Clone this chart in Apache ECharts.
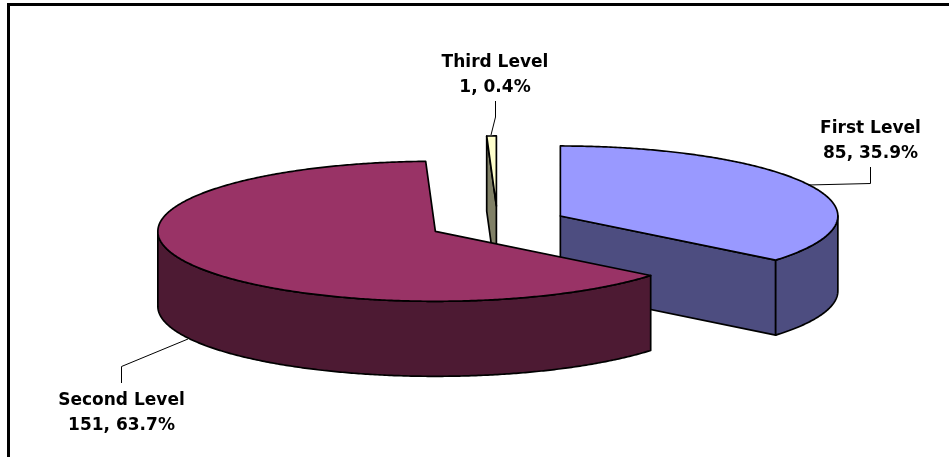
<!DOCTYPE html>
<html><head><meta charset="utf-8">
<script src="https://cdn.jsdelivr.net/npm/echarts@6/dist/echarts.min.js"></script>
<style>html,body{margin:0;padding:0;background:#fff}#c{width:949px;height:457px}</style>
</head><body><div id="c"></div>
<script>
var categories = ['First Level', 'Second Level', 'Third Level'];
var values = [85, 151, 1];
var percentLabels = ['35.9%', '63.7%', '0.4%'];
var topColors = ['#9999FF', '#993366', '#FFFFCC'];
var sideColors = ['#4D4D80', '#4D1A33', '#808066'];
var stacking = [1, 2, 0];

var CX = 497.6, CY = 223.5, RX = 277.5, RY = 70, DEPTH = 75, EXPLODE = 69.5, MIN_ANGLE = 2;
var total = values.reduce(function (a, b) { return a + b; }, 0);
var sweeps = values.map(function (v) { return Math.max(MIN_ANGLE, v / total * 360); });
var over = sweeps.reduce(function (a, b) { return a + b; }, 0) - 360;
sweeps[1] -= over;

var rad = function (d) { return d * Math.PI / 180; };
function pt(c, a, dz) {
  return [c[0] + RX * Math.sin(rad(a)), c[1] - RY * Math.cos(rad(a)) + (dz || 0)];
}
function arc(c, a0, a1, dz) {
  var n = Math.max(2, Math.ceil(Math.abs(a1 - a0) * 2)), out = [];
  for (var i = 0; i <= n; i++) out.push(pt(c, a0 + (a1 - a0) * i / n, dz));
  return out;
}
var strokeOf = function (fill) { return { fill: fill, stroke: '#000', lineWidth: 1.7, lineJoin: 'round' }; };

function renderSlice(params, api) {
  var i = params.dataIndex, a0 = 0;
  for (var k = 0; k < i; k++) a0 += sweeps[k];
  var a1 = a0 + sweeps[i], mid = (a0 + a1) / 2;
  var c = [CX + EXPLODE * Math.sin(rad(mid)), CY - EXPLODE * RY / RX * Math.cos(rad(mid))];
  var z = stacking[i] * 10, ch = [];
  function poly(points, fill, dz2) {
    ch.push({ type: 'polygon', shape: { points: points }, style: strokeOf(fill), z2: z + dz2 });
  }
  var bottom = [c[0], c[1] + DEPTH];
  if (Math.sin(rad(a0)) < -1e-6) {
    poly([c, pt(c, a0), pt(c, a0, DEPTH), bottom], sideColors[i], 0);
  }
  if (Math.sin(rad(a1)) > 1e-6) {
    poly([c, pt(c, a1), pt(c, a1, DEPTH), bottom], sideColors[i], 0);
  }
  var w0 = Math.max(a0, 90), w1 = Math.min(a1, 270);
  if (w1 > w0) {
    poly(arc(c, w0, w1, 0).concat(arc(c, w1, w0, DEPTH)), sideColors[i], 1);
  }
  poly([c].concat(arc(c, a0, a1, 0)), topColors[i], 2);
  return { type: 'group', children: ch };
}

var labelBoxes = [
  { x: 870.5, y: 128.5, line: [[808, 185], [870.5, 183.5], [870.5, 167]] },
  { x: 121.5, y: 400.5, line: [[188, 339], [121.5, 366.5], [121.5, 383]] },
  { x: 495, y: 62.5, line: [[495.5, 101], [495.5, 117], [491, 135]] }
];
var LINE_GAP = 25;
var graphics = [{
  type: 'polyline', shape: { points: [[8.5, 458], [8.5, 4.5], [950, 4.5]] },
  style: { fill: 'none', stroke: '#000', lineWidth: 3 }, z: 0
}];
categories.forEach(function (name, i) {
  var b = labelBoxes[i];
  graphics.push({ type: 'polyline', shape: { points: b.line }, style: { fill: 'none', stroke: '#000', lineWidth: 1 }, z: 20 });
  [name, values[i] + ', ' + percentLabels[i]].forEach(function (t, j) {
    graphics.push({
      type: 'text', x: b.x, y: b.y + j * LINE_GAP, z: 20,
      style: { text: t, fill: '#000', font: 'bold 17px "DejaVu Sans"', align: 'center', verticalAlign: 'middle' }
    });
  });
});

var chart = echarts.init(document.getElementById('c'));
chart.setOption({
  animation: false,
  backgroundColor: '#fff',
  series: [{
    type: 'custom',
    coordinateSystem: 'none',
    data: values.map(function (v, i) { return { name: categories[i], value: v }; }),
    renderItem: renderSlice,
    silent: true
  }],
  graphic: graphics
});
</script></body></html>
